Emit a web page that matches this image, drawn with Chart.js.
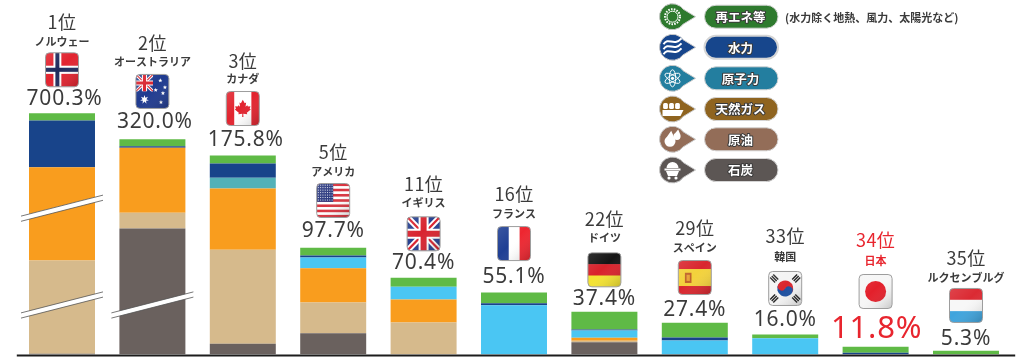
<!DOCTYPE html>
<html lang="ja">
<head>
<meta charset="utf-8">
<title>エネルギー自給率</title>
<script src="https://cdn.jsdelivr.net/npm/chart.js@4"></script>
<style>
  html, body { margin: 0; padding: 0; background: #fff; }
  canvas { display: block; }
</style>
</head>
<body>
<canvas id="myChart" width="1024" height="362"></canvas>
<script>
const countries = ['ノルウェー', 'オーストラリア', 'カナダ', 'アメリカ', 'イギリス', 'フランス', 'ドイツ', 'スペイン', '韓国', '日本', 'ルクセンブルグ'];
const ranks = ['1位', '2位', '3位', '5位', '11位', '16位', '22位', '29位', '33位', '34位', '35位'];
const totals = ['700.3%', '320.0%', '175.8%', '97.7%', '70.4%', '55.1%', '37.4%', '27.4%', '16.0%', '11.8%', '5.3%'];

const coal = [0.6, 114.5, 9.7, 19.4, 0, 0, 11.2, 0, 0, 0, 0];
const oil = [84.8, 14.3, 85.5, 27.9, 29.1, 0, 1.3, 0, 0, 0, 0];
const gas = [84.8, 59.1, 55.7, 31.2, 20.9, 0, 2.7, 0, 0, 0, 0];
const nuclear = [0, 0, 9.7, 9.7, 11.5, 44.8, 6.6, 12.7, 14.8, 0, 0];
const hydro = [42.5, 1.5, 13, 1.8, 0, 1.8, 0.9, 2.7, 0, 1.5, 0];
const renewables = [6.6, 6.4, 7.3, 7, 8.2, 9.7, 16.1, 13.4, 3.4, 5.5, 3.4];

const breakCountry = [0, 0, 1];
const breakValue = [133, 45, 45];

const legendNames = ['再エネ等', '水力', '原子力', '天然ガス', '原油', '石炭'];
const legendNote = '(水力除く地熱、風力、太陽光など)';
const legendColors = ['#2E7A2E', '#17468C', '#237E9F', '#8F6420', '#936D58', '#5C5654'];

const JP = '"Noto Sans CJK JP"';
const INK = '#3b3b3b';
const RED = '#E8252E';

// distance above the top of each bar, label by label
const gapTotal = [14, 17, 15.7, 16.3, 15, 15.3, 13, 13, 14, 18, 12];
const gapFlag = [43.5, 47.7, 47, 47.3, 44, 49, 42, 45.3, 46, 55.3, 45.3];
const gapName = [71, 77, 76.7, 76.3, 74.6, 78.7, 74, 75, 78, 86.3, 73];
const gapRank = [91, 96.4, 94.3, 95.3, 94, 98.7, 92.3, 94.6, 98, 106.3, 93];
// the long totals sit a little right of their bars
const shiftTotal = [2.5, 2.5, 3, 0, 0, 0, 0, 0, 0, 1, 0];

function rr(ctx, x, y, w, h, r) {
  ctx.beginPath();
  ctx.roundRect(x, y, w, h, r);
}
function star(ctx, cx, cy, r, n) {
  ctx.beginPath();
  for (let i = 0; i < n * 2; i++) {
    const a = -Math.PI / 2 + i * Math.PI / n;
    const q = i % 2 ? r * 0.45 : r;
    ctx.lineTo(cx + Math.cos(a) * q, cy + Math.sin(a) * q);
  }
  ctx.closePath();
  ctx.fill();
}
function bands(ctx, w, h, cols) {
  cols.forEach((c, i) => { ctx.fillStyle = c; ctx.fillRect(0, h * i / cols.length, w, h / cols.length + 0.5); });
}
function unionJack(ctx, w, h) {
  ctx.fillStyle = '#26408F';
  ctx.fillRect(0, 0, w, h);
  const line = (x1, y1, x2, y2, c, t) => {
    ctx.strokeStyle = c; ctx.lineWidth = t;
    ctx.beginPath(); ctx.moveTo(x1, y1); ctx.lineTo(x2, y2); ctx.stroke();
  };
  const t = h / 34;
  line(0, 0, w, h, '#fff', 6 * t); line(w, 0, 0, h, '#fff', 6 * t);
  line(0, 0, w, h, '#D8232F', 2.2 * t); line(w, 0, 0, h, '#D8232F', 2.2 * t);
  line(w / 2, 0, w / 2, h, '#fff', 10 * t); line(0, h / 2, w, h / 2, '#fff', 10 * t);
  line(w / 2, 0, w / 2, h, '#D8232F', 6 * t); line(0, h / 2, w, h / 2, '#D8232F', 6 * t);
}

const flags = [
  (ctx, w, h) => { // Norway
    ctx.fillStyle = '#E2242F'; ctx.fillRect(0, 0, w, h);
    ctx.fillStyle = '#fff'; ctx.fillRect(w * 0.24, 0, w * 0.24, h); ctx.fillRect(0, h * 0.38, w, h * 0.24);
    ctx.fillStyle = '#1F2A5C'; ctx.fillRect(w * 0.3, 0, w * 0.12, h); ctx.fillRect(0, h * 0.44, w, h * 0.12);
  },
  (ctx, w, h) => { // Australia
    ctx.fillStyle = '#1F3A8F'; ctx.fillRect(0, 0, w, h);
    ctx.save(); ctx.beginPath(); ctx.rect(0, 0, w * 0.52, h * 0.5); ctx.clip();
    ctx.scale(0.52, 0.5); unionJack(ctx, w, h); ctx.restore();
    ctx.fillStyle = '#fff';
    star(ctx, w * 0.26, h * 0.74, 4.5, 7);
    [[0.74, 0.18], [0.88, 0.38], [0.6, 0.46], [0.76, 0.82], [0.82, 0.55]].forEach(p => star(ctx, w * p[0], h * p[1], 2.2, 5));
  },
  (ctx, w, h) => { // Canada
    ctx.fillStyle = '#fff'; ctx.fillRect(0, 0, w, h);
    ctx.fillStyle = '#E2242F'; ctx.fillRect(0, 0, w * 0.24, h); ctx.fillRect(w * 0.76, 0, w * 0.24, h);
    const leaf = [[0, -11], [2.4, -6.5], [4.2, -7.4], [3.4, -2.2], [5.6, -4.2], [6.4, -2.4], [9.6, -3], [8.6, 0.4], [10, 1.2], [5, 5.2], [5.6, 7], [0.6, 6.4], [0.8, 10.5], [-0.8, 10.5], [-0.6, 6.4], [-5.6, 7], [-5, 5.2], [-10, 1.2], [-8.6, 0.4], [-9.6, -3], [-6.4, -2.4], [-5.6, -4.2], [-3.4, -2.2], [-4.2, -7.4], [-2.4, -6.5]];
    ctx.beginPath();
    leaf.forEach(p => ctx.lineTo(w / 2 + p[0] * 0.8, h / 2 + p[1] * 0.8));
    ctx.closePath(); ctx.fill();
  },
  (ctx, w, h) => { // USA
    const stripes = [];
    for (let i = 0; i < 13; i++) stripes.push(i % 2 ? '#fff' : '#D8343F');
    bands(ctx, w, h, stripes);
    ctx.fillStyle = '#2C3A80'; ctx.fillRect(0, 0, w * 0.5, h * 0.54);
    ctx.fillStyle = '#fff';
    for (let r = 0; r < 7; r++) for (let c = 0; c < 7; c++) {
      ctx.fillRect(1.2 + c * w * 0.5 / 7.2, 1.2 + r * h * 0.54 / 7.4, 0.9, 0.9);
    }
  },
  (ctx, w, h) => unionJack(ctx, w, h),
  (ctx, w, h) => { // France
    ctx.fillStyle = '#fff'; ctx.fillRect(0, 0, w, h);
    ctx.fillStyle = '#1F3F94'; ctx.fillRect(0, 0, w * 0.34, h);
    ctx.fillStyle = '#EE2630'; ctx.fillRect(w * 0.67, 0, w * 0.33, h);
  },
  (ctx, w, h) => bands(ctx, w, h, ['#151515', '#D9222B', '#F4E332']),
  (ctx, w, h) => { // Spain
    bands(ctx, w, h, ['#D9262E', '#F3D23B', '#F3D23B', '#D9262E']);
    ctx.fillStyle = '#C0642B'; ctx.fillRect(w * 0.2, h * 0.36, w * 0.2, h * 0.3);
    ctx.fillStyle = '#E8A33A'; ctx.fillRect(w * 0.25, h * 0.42, w * 0.1, h * 0.18);
  },
  (ctx, w, h) => { // Korea
    ctx.fillStyle = '#F4F4F4'; ctx.fillRect(0, 0, w, h);
    const cx = w / 2, cy = h / 2;
    ctx.save(); ctx.translate(cx, cy); ctx.rotate(Math.PI / 6);
    ctx.fillStyle = '#D9262E'; ctx.beginPath(); ctx.arc(0, 0, 8, Math.PI, 0); ctx.fill();
    ctx.fillStyle = '#1C4FA0'; ctx.beginPath(); ctx.arc(0, 0, 8, 0, Math.PI); ctx.fill();
    ctx.fillStyle = '#D9262E'; ctx.beginPath(); ctx.arc(-4, 0, 4, 0, Math.PI * 2); ctx.fill();
    ctx.fillStyle = '#1C4FA0'; ctx.beginPath(); ctx.arc(4, 0, 4, 0, Math.PI * 2); ctx.fill();
    ctx.restore();
    ctx.fillStyle = '#222';
    [-1, 1].forEach(a => [-1, 1].forEach(b => {
      ctx.save(); ctx.translate(cx + a * 11, cy + b * 10); ctx.rotate(a * b * -Math.PI / 4 + Math.PI / 2);
      for (let i = -1; i <= 1; i++) ctx.fillRect(-3.5, i * 2.2 - 0.7, 7, 1.4);
      ctx.restore();
    }));
  },
  (ctx, w, h) => { // Japan
    ctx.fillStyle = '#F6F6F6'; ctx.fillRect(0, 0, w, h);
    ctx.fillStyle = '#E3202B'; ctx.beginPath(); ctx.arc(w / 2, h / 2, 10.5, 0, Math.PI * 2); ctx.fill();
  },
  (ctx, w, h) => bands(ctx, w, h, ['#DB2A33', '#F7F7F7', '#3FA4DD'])
];

function drawFlag(ctx, i, cx, cy) {
  const w = 33, h = 34;
  ctx.save();
  ctx.translate(cx - w / 2, cy - h / 2);
  ctx.save();
  rr(ctx, 0, 0, w, h, 4); ctx.clip();
  flags[i](ctx, w, h);
  const g = ctx.createLinearGradient(0, 0, w, h);
  g.addColorStop(0, 'rgba(255,255,255,0.12)');
  g.addColorStop(0.45, 'rgba(255,255,255,0)');
  g.addColorStop(1, 'rgba(0,0,0,0.2)');
  ctx.fillStyle = g; ctx.fillRect(0, 0, w, h);
  ctx.restore();
  rr(ctx, 0, 0, w, h, 4);
  ctx.strokeStyle = '#9d9d9d'; ctx.lineWidth = 1; ctx.stroke();
  ctx.restore();
}

const icons = [
  (ctx, x, y) => { // gear
    ctx.strokeStyle = '#fff'; ctx.lineWidth = 2; ctx.setLineDash([1.6, 1.2]);
    ctx.beginPath(); ctx.arc(x, y, 7.5, 0, Math.PI * 2); ctx.stroke(); ctx.setLineDash([]);
    ctx.lineWidth = 1; ctx.beginPath(); ctx.arc(x, y, 5.5, 0, Math.PI * 2); ctx.stroke();
  },
  (ctx, x, y) => { // waves
    ctx.strokeStyle = '#fff'; ctx.lineWidth = 2;
    [-5, 0, 5].forEach(d => {
      ctx.beginPath(); ctx.moveTo(x - 9, y + d + 2);
      ctx.bezierCurveTo(x - 4, y + d - 6, x + 1, y + d + 5, x + 9, y + d - 4);
      ctx.stroke();
    });
  },
  (ctx, x, y) => { // atom
    ctx.strokeStyle = '#fff'; ctx.lineWidth = 1;
    [0, Math.PI / 3, -Math.PI / 3].forEach(a => {
      ctx.beginPath(); ctx.ellipse(x, y, 8.5, 3.2, a + Math.PI / 2, 0, Math.PI * 2); ctx.stroke();
    });
    ctx.fillStyle = '#fff'; ctx.beginPath(); ctx.arc(x, y, 1.6, 0, Math.PI * 2); ctx.fill();
  },
  (ctx, x, y) => { // gas tanker
    ctx.fillStyle = '#fff';
    ctx.beginPath(); ctx.moveTo(x - 10, y + 1); ctx.lineTo(x + 11, y + 1); ctx.lineTo(x + 8, y + 7); ctx.lineTo(x - 10, y + 7); ctx.closePath(); ctx.fill();
    [-7, -1, 5].forEach(d => { rr(ctx, x + d - 2.4, y - 6, 4.8, 6, 1.5); ctx.fill(); });
  },
  (ctx, x, y) => { // oil drops
    ctx.fillStyle = '#fff';
    [[-2.5, 2, 5.5], [4.5, -3, 3.6]].forEach(p => {
      ctx.beginPath();
      ctx.arc(x + p[0], y + p[1], p[2], 0, Math.PI * 2);
      ctx.moveTo(x + p[0] - p[2], y + p[1] - 1); ctx.lineTo(x + p[0] + 1.2, y + p[1] - p[2] * 1.9); ctx.lineTo(x + p[0] + p[2], y + p[1] - 1);
      ctx.fill();
    });
  },
  (ctx, x, y) => { // coal cart
    ctx.fillStyle = '#fff';
    ctx.beginPath(); ctx.arc(x, y - 2, 6, Math.PI, 0); ctx.fill();
    ctx.fillRect(x - 8, y - 1.5, 16, 2);
    ctx.beginPath(); ctx.moveTo(x - 6.5, y + 1); ctx.lineTo(x + 6.5, y + 1); ctx.lineTo(x + 4.5, y + 6); ctx.lineTo(x - 4.5, y + 6); ctx.closePath(); ctx.fill();
    ctx.beginPath(); ctx.arc(x - 3.5, y + 8, 1.6, 0, Math.PI * 2); ctx.arc(x + 3.5, y + 8, 1.6, 0, Math.PI * 2); ctx.fill();
  }
];

function drawLegend(ctx) {
  const rowY = [16.7, 47.3, 78.3, 109, 139.3, 170];
  legendNames.forEach((name, i) => {
    const y = rowY[i], cx = 672.5, r = 13, col = legendColors[i];
    // teardrop
    ctx.beginPath();
    ctx.arc(cx, y, r, 0.2 * Math.PI, 1.8 * Math.PI);
    ctx.lineTo(cx + 23, y);
    ctx.closePath();
    ctx.fillStyle = col; ctx.fill();
    ctx.strokeStyle = '#c9c9c9'; ctx.lineWidth = 1; ctx.stroke();
    icons[i](ctx, cx, y);
    // pill
    rr(ctx, 704.5, y - 11.5, 73.5, 23, 11.5);
    ctx.fillStyle = col; ctx.fill();
    ctx.strokeStyle = '#d5d5d5'; ctx.stroke();
    ctx.font = 'bold 12.5px ' + JP;
    ctx.textAlign = 'center'; ctx.textBaseline = 'middle';
    ctx.lineJoin = 'round';
    ctx.strokeStyle = '#3a3a3a'; ctx.lineWidth = 2;
    ctx.strokeText(name, 740.5, y + 0.5);
    ctx.fillStyle = '#fff';
    ctx.fillText(name, 740.5, y + 0.5);
  });
  ctx.font = 'bold 11px ' + JP;
  ctx.textAlign = 'left';
  ctx.fillStyle = INK;
  ctx.fillText(legendNote, 785, 17.5);
}

const decorations = {
  id: 'decorations',
  afterDatasetsDraw(chart) {
    const { ctx, scales: { x, y }, chartArea } = chart;
    ctx.save();
    // break marks
    breakCountry.forEach((c, i) => {
      const cx = x.getPixelForValue(c), cy = y.getPixelForValue(breakValue[i]);
      const dx = 41, dy = 10.5;
      ctx.beginPath();
      ctx.moveTo(cx - dx, cy + dy - 2.6); ctx.lineTo(cx + dx, cy - dy - 2.6);
      ctx.lineTo(cx + dx, cy - dy + 2.6); ctx.lineTo(cx - dx, cy + dy + 2.6);
      ctx.closePath();
      ctx.fillStyle = '#fff'; ctx.fill();
      ctx.strokeStyle = '#555'; ctx.lineWidth = 0.8;
      ctx.beginPath();
      ctx.moveTo(cx - dx, cy + dy - 2.6); ctx.lineTo(cx + dx, cy - dy - 2.6);
      ctx.moveTo(cx - dx, cy + dy + 2.6); ctx.lineTo(cx + dx, cy - dy + 2.6);
      ctx.stroke();
    });
    // baseline, runs a bit past the last category
    ctx.strokeStyle = '#1c1c1c'; ctx.lineWidth = 2;
    ctx.beginPath();
    ctx.moveTo(chartArea.left, y.getPixelForValue(0) + 1);
    ctx.lineTo(chartArea.right + 4, y.getPixelForValue(0) + 1);
    ctx.stroke();
    // labels and flags above each bar
    ctx.textAlign = 'center'; ctx.textBaseline = 'middle';
    countries.forEach((name, i) => {
      const sum = coal[i] + oil[i] + gas[i] + nuclear[i] + hydro[i] + renewables[i];
      const top = y.getPixelForValue(sum), cx = x.getPixelForValue(i);
      const isJapan = name === '日本';
      ctx.fillStyle = isJapan ? RED : INK;
      ctx.letterSpacing = '0.4px';
      ctx.font = '18px ' + JP;
      ctx.fillText(ranks[i], cx, top - gapRank[i]);
      ctx.letterSpacing = '0px';
      ctx.font = 'bold 11px ' + JP;
      ctx.fillText(name, cx, top - gapName[i]);
      drawFlag(ctx, i, cx, top - gapFlag[i]);
      ctx.letterSpacing = '0.8px';
      ctx.font = (isJapan ? '31px' : '21px') + ' "Noto Sans"';
      ctx.fillText(totals[i], cx + shiftTotal[i], top - gapTotal[i]);
      ctx.letterSpacing = '0px';
    });
    drawLegend(ctx);
    ctx.restore();
  }
};

const ctx = document.getElementById('myChart').getContext('2d');
new Chart(ctx, {
  type: 'bar',
  data: {
    labels: countries,
    datasets: [
      { label: '石炭', data: coal, backgroundColor: '#6A615E' },
      { label: '原油', data: oil, backgroundColor: '#D6BA8C' },
      { label: '天然ガス', data: gas, backgroundColor: '#F99D1E' },
      { label: '原子力', data: nuclear, backgroundColor: countries.map(c => c === 'カナダ' ? '#53B1B8' : '#4AC6F3') },
      { label: '水力', data: hydro, backgroundColor: '#18448A' },
      { label: '再エネ等', data: renewables, backgroundColor: '#5FBA46' }
    ]
  },
  options: {
    responsive: false,
    animation: false,
    layout: { padding: { left: 16.8, right: 12.8, top: 0, bottom: 7.5 } },
    datasets: { bar: { barPercentage: 0.73, categoryPercentage: 1, borderWidth: 0 } },
    plugins: { legend: { display: false }, tooltip: { enabled: false } },
    scales: {
      x: { stacked: true, display: false },
      y: { stacked: true, display: false, min: 0, max: 322.3 }
    }
  },
  plugins: [decorations]
});
</script>
</body>
</html>
